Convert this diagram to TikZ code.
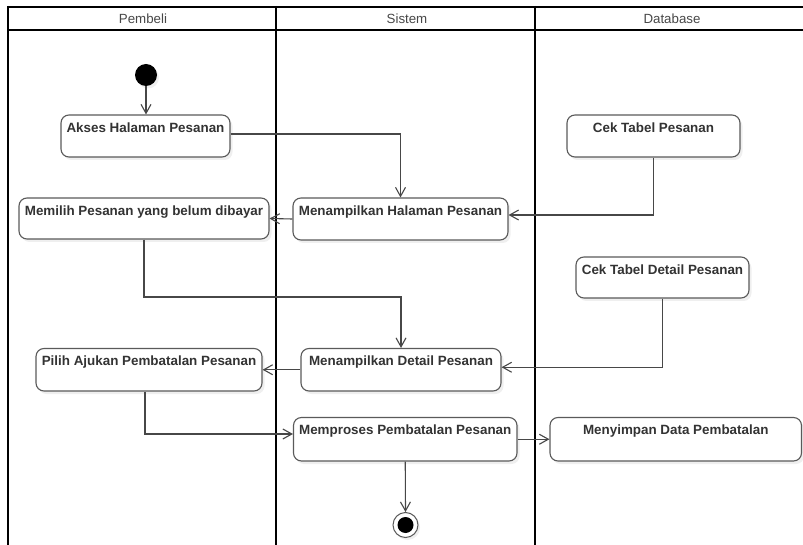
\documentclass[tikz,border=0pt]{standalone}
\usepackage{fontspec}
\setmainfont{Liberation Sans}
\usetikzlibrary{arrows.meta,shadows}
\definecolor{inkgray}{HTML}{333333}
\definecolor{linegray}{HTML}{474747}
\definecolor{boxgray}{HTML}{5A5A5A}
\tikzset{
  lane/.style={draw=black, line width=2.2pt},
  laneh/.style={draw=black, line width=1.4pt},
  lanetitle/.style={anchor=base, text=inkgray!90, font=\fontsize{13.3}{15}\selectfont},
  act/.style={draw=boxgray, line width=1.1pt, fill=white, rounded corners=8pt,
    drop shadow={shadow xshift=2.5pt, shadow yshift=-3pt, opacity=0.13}},
  acttext/.style={anchor=base, text=inkgray, font=\bfseries\fontsize{13.4}{15}\selectfont, inner sep=0pt},
  flow/.style={draw=linegray, line width=1.1pt,
    -{Straight Barb[length=9pt, width=10pt, line width=1.1pt]}},
  startnode/.style={circle, fill=black, minimum size=22pt, inner sep=0pt,
    drop shadow={shadow xshift=2pt, shadow yshift=-2.5pt, opacity=0.13}},
  endring/.style={circle, draw=boxgray, line width=1pt, fill=white, minimum size=25pt, inner sep=0pt,
    drop shadow={shadow xshift=2pt, shadow yshift=-2.5pt, opacity=0.13}},
  enddot/.style={circle, fill=black, minimum size=16pt, inner sep=0pt}
}
\begin{document}
\begin{tikzpicture}[x=1pt,y=-1pt]
\useasboundingbox (0,0) rectangle (803,545);
\clip (0,0) rectangle (803,545);

% swimlane frame
\draw[laneh] (8,7) -- (812,7);
\draw[laneh, line width=1.1pt] (8,30) -- (812,30);
\draw[lane] (8,6) -- (8,560);
\draw[lane] (276,6) -- (276,560);
\draw[lane] (535,6) -- (535,560);

% lane titles
\node[lanetitle] (t-pembeli) at (143,23.5) {Pembeli};
\node[lanetitle] (t-sistem) at (407,23.5) {Sistem};
\node[lanetitle] (t-database) at (672,23.5) {Database};

% start and end
\node[startnode] (start) at (146,75) {};
\node[endring] (stop) at (405.5,525) {};
\node[enddot] (stopdot) at (stop) {};

% actions
\node[act, minimum width=169pt, minimum height=42pt] (akses) at (145.5,136) {};
\node[act, minimum width=250pt, minimum height=41pt] (memilih) at (144,218.5) {};
\node[act, minimum width=215pt, minimum height=42pt] (menhal) at (400.5,219) {};
\node[act, minimum width=173pt, minimum height=42pt] (cek) at (653.5,136) {};
\node[act, minimum width=173pt, minimum height=41pt] (cekdet) at (662.5,277.5) {};
\node[act, minimum width=200pt, minimum height=42.5pt] (mendet) at (401,369.75) {};
\node[act, minimum width=226pt, minimum height=42.5pt] (pilih) at (149,369.75) {};
\node[act, minimum width=223.5pt, minimum height=43.5pt] (proses) at (405.25,439.25) {};
\node[act, minimum width=251.5pt, minimum height=43.5pt] (simpan) at (675.75,439.25) {};

% action labels
\node[acttext] (akses-t) at ([yshift=-18pt]akses.north) {Akses Halaman Pesanan};
\node[acttext] (memilih-t) at ([yshift=-18pt]memilih.north) {Memilih Pesanan yang belum dibayar};
\node[acttext] (menhal-t) at ([yshift=-18pt]menhal.north) {Menampilkan Halaman Pesanan};
\node[acttext] (cek-t) at ([yshift=-18pt]cek.north) {Cek Tabel Pesanan};
\node[acttext] (cekdet-t) at ([yshift=-18pt]cekdet.north) {Cek Tabel Detail Pesanan};
\node[acttext] (mendet-t) at ([yshift=-18pt]mendet.north) {Menampilkan Detail Pesanan};
\node[acttext] (pilih-t) at ([yshift=-18pt]pilih.north) {Pilih Ajukan Pembatalan Pesanan};
\node[acttext] (proses-t) at ([yshift=-18pt]proses.north) {Memproses Pembatalan Pesanan};
\node[acttext] (simpan-t) at ([yshift=-18pt]simpan.north) {Menyimpan Data Pembatalan};

% bend points
\coordinate (b1) at (145,297);
\coordinate (b2) at (145,434);

% flows
\draw[flow] (start) -- (start |- akses.north);
\draw[flow] ([yshift=2pt]akses.east) -| (menhal.north);
\draw[flow] (cek.south) |- ([yshift=4pt]menhal.east);
\draw[flow] (menhal.west) -- (memilih.east);
\draw[flow] (memilih.south) |- (b1) -| (mendet.north);
\draw[flow] (cekdet.south) |- ([yshift=2.5pt]mendet.east);
\draw[flow] (mendet.west) -- (pilih.east);
\draw[flow] (pilih.south -| b2) -- (b2) -- (b2 -| proses.west);
\draw[flow] (proses.east) -- (simpan.west);
\draw[flow] (proses.south) -- (stop.north);
\end{tikzpicture}
\end{document}
